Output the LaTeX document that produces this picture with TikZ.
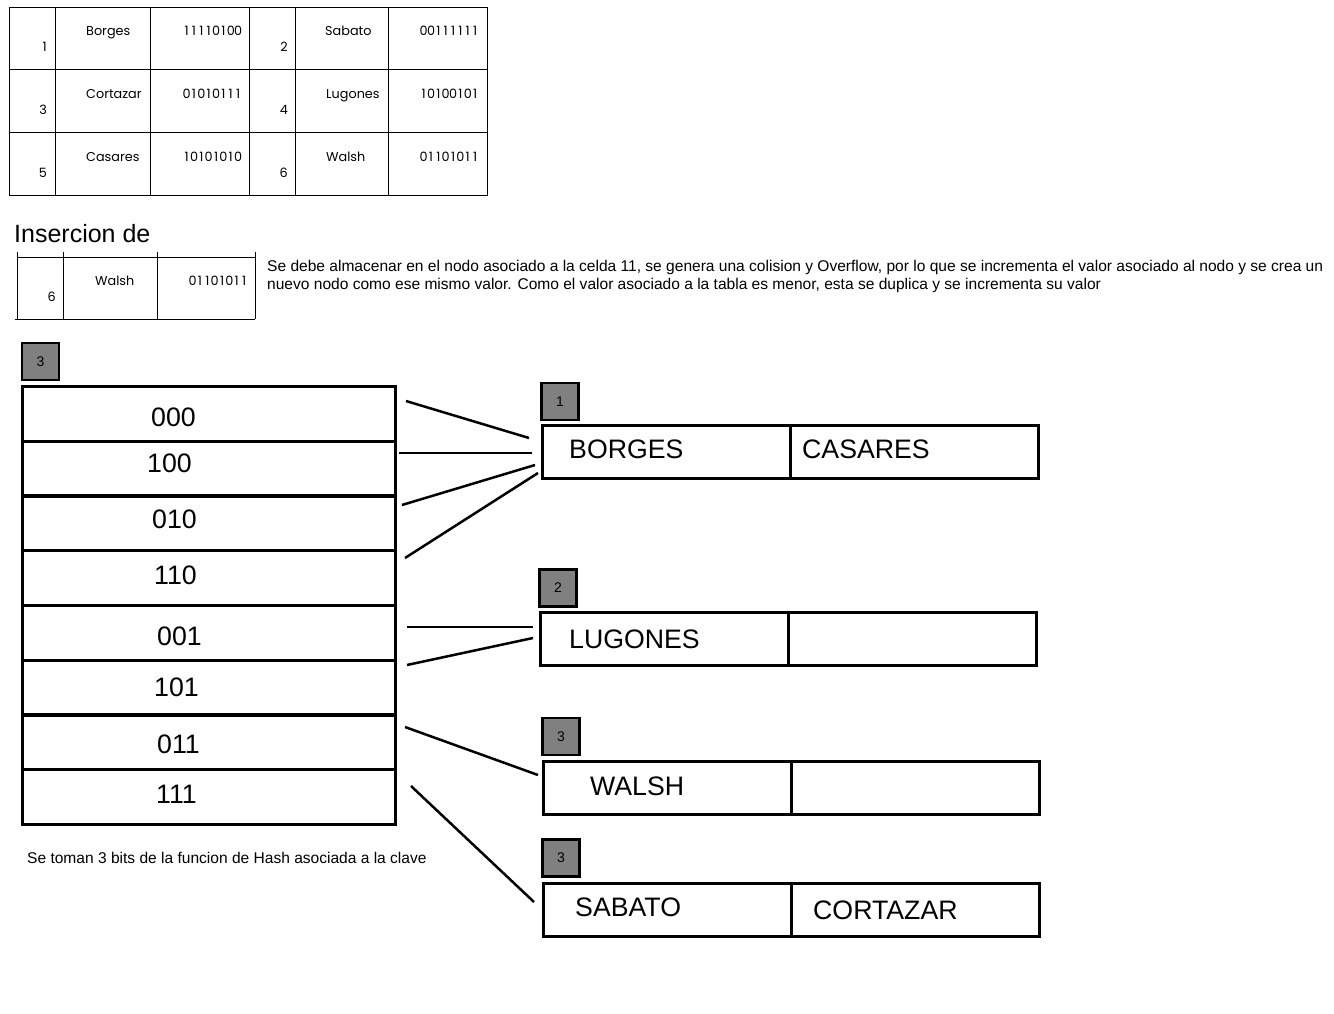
\documentclass[tikz,border=0pt]{standalone}
\usepackage{fontspec}
\setmainfont{Liberation Sans}
\newfontfamily\tabfont{Poppins}
\makeatletter
\newcommand\mybits[1]{\@tfor\mydg:=#1\do{\makebox[7.35pt][c]{\mydg}}}
\makeatother
\begin{document}
\begin{tikzpicture}[x=1pt,y=-1pt,
  tabline/.style={line width=1pt},
  tabtxt/.style={inner sep=0pt,font=\tabfont\fontsize{12.8}{14}\selectfont},
  graybox/.style={draw,line width=2.5pt,fill={rgb,255:red,128;green,128;blue,128},minimum width=37pt,minimum height=37pt,inner sep=0pt,font=\fontsize{14}{16}\selectfont},
  rowbox/.style={draw,line width=3pt,minimum width=373pt,minimum height=55pt,inner sep=0pt,anchor=north west},
  cellbox/.style={draw,line width=3pt,minimum width=248pt,minimum height=53pt,inner sep=0pt,anchor=north west},
  bigtxt/.style={inner sep=0pt,anchor=base west,font=\fontsize{26.7}{30}\selectfont},
  link/.style={line width=2.5pt},
  plain/.style={inner sep=0pt,anchor=base west}]
\useasboundingbox (0,0) rectangle (1334,1014);

% ---------- top table ----------
\draw[tabline] (9,8) rectangle (487,196);
\foreach \x in {55,150,249,295,388} \draw[tabline] (\x,8) -- (\x,196);
\foreach \y in {70,133} \draw[tabline] (9,\y) -- (487,\y);

\node[tabtxt,anchor=base east] (i1) at (47,52) {1};
\node[tabtxt,anchor=base west] (n1) at (86,36) {Borges};
\node[tabtxt,anchor=base east] (h1) at (242,36) {\mybits{11110100}};
\node[tabtxt,anchor=base east] (i2) at (288,52) {2};
\node[tabtxt,anchor=base west] (n2) at (325,36) {Sabato};
\node[tabtxt,anchor=base east] (h2) at (479,36) {\mybits{00111111}};

\node[tabtxt,anchor=base east] (i3) at (47,115) {3};
\node[tabtxt,anchor=base west] (n3) at (86,99) {Cortazar};
\node[tabtxt,anchor=base east] (h3) at (242,99) {\mybits{01010111}};
\node[tabtxt,anchor=base east] (i4) at (288,115) {4};
\node[tabtxt,anchor=base west] (n4) at (326,99) {Lugones};
\node[tabtxt,anchor=base east] (h4) at (479,99) {\mybits{10100101}};

\node[tabtxt,anchor=base east] (i5) at (47,178) {5};
\node[tabtxt,anchor=base west] (n5) at (86,162) {Casares};
\node[tabtxt,anchor=base east] (h5) at (242,162) {\mybits{10101010}};
\node[tabtxt,anchor=base east] (i6) at (288,178) {6};
\node[tabtxt,anchor=base west] (n6) at (326,162) {Walsh};
\node[tabtxt,anchor=base east] (h6) at (479,162) {\mybits{01101011}};

% ---------- insertion ----------
\node[plain,font=\fontsize{25}{30}\selectfont] (ins) at (14,242) {Insercion de};

\draw[tabline] (17,257) -- (255,257);
\draw[tabline] (15,319) -- (255,319);
\foreach \x in {17,63,157,255} \draw[tabline] (\x,252) -- (\x,319);
\node[tabtxt,anchor=base east] (wi) at (56,301) {6};
\node[tabtxt,anchor=base west] (wn) at (95,285) {Walsh};
\node[tabtxt,anchor=base east] (wh) at (248,285) {\mybits{01101011}};

\node[plain,align=left,anchor=north west,font=\fontsize{15.55}{18}\selectfont] (desc) at (267,260)
  {Se debe almacenar en el nodo asociado a la celda 11, se genera una colision y Overflow, por lo que se incrementa el valor asociado al nodo y se crea un\\
   nuevo nodo como ese mismo valor. Como el valor asociado a la tabla es menor, esta se duplica y se incrementa su valor};

% ---------- directory ----------
\node[graybox] (gd) at (40.5,361.5) {3};
\node[rowbox] (r0) at (21,385) {};
\node[rowbox] (r1) at (21,440) {};
\node[rowbox] (r2) at (21,494) {};
\node[rowbox] (r3) at (21,549) {};
\node[rowbox] (r4) at (21,604) {};
\node[rowbox] (r5) at (21,659) {};
\node[rowbox] (r6) at (21,713) {};
\node[rowbox] (r7) at (21,768) {};

\node[bigtxt] (t0) at (151,426) {000};
\node[bigtxt] (t1) at (147,472) {100};
\node[bigtxt] (t2) at (152,528) {010};
\node[bigtxt] (t3) at (154,584) {110};
\node[bigtxt] (t4) at (157,645) {001};
\node[bigtxt] (t5) at (154,696) {101};
\node[bigtxt] (t6) at (157,753) {011};
\node[bigtxt] (t7) at (156,803) {111};

\node[plain,font=\fontsize{15.55}{18}\selectfont] (note) at (27,863) {Se toman 3 bits de la funcion de Hash asociada a la clave};

% ---------- buckets ----------
\node[graybox] (g1) at (560,401.5) {1};
\node[cellbox] (b1l) at (541,424) {};
\node[cellbox] (b1r) at (789,424) {};
\node[bigtxt] (b1a) at (569,458) {BORGES};
\node[bigtxt] (b1b) at (802,458) {CASARES};

\node[graybox] (g2) at (558,588) {2};
\node[cellbox] (b2l) at (539,611) {};
\node[cellbox] (b2r) at (787,611) {};
\node[bigtxt] (b2a) at (569,648) {LUGONES};

\node[graybox] (g3) at (561,736.5) {3};
\node[cellbox] (b3l) at (542,760) {};
\node[cellbox] (b3r) at (790,760) {};
\node[bigtxt] (b3a) at (590,795) {WALSH};

\node[graybox] (g4) at (561,858) {3};
\node[cellbox] (b4l) at (542,882) {};
\node[cellbox] (b4r) at (790,882) {};
\node[bigtxt] (b4a) at (575,916) {SABATO};
\node[bigtxt] (b4b) at (813,919) {CORTAZAR};

% ---------- connectors ----------
\coordinate (s0) at (406,401); \coordinate (e0) at (529,438);
\coordinate (s1) at (399,453); \coordinate (e1) at (532,453);
\coordinate (s2) at (402,505); \coordinate (e2) at (535,465);
\coordinate (s3) at (405,558); \coordinate (e3) at (538,473);
\coordinate (s4) at (407,627); \coordinate (e4) at (533,627);
\coordinate (s5) at (407,665); \coordinate (e5) at (533,638);
\coordinate (s6) at (405,727); \coordinate (e6) at (538,775);
\coordinate (s7) at (411,786); \coordinate (e7) at (534,902);
\foreach \i in {0,...,7} \draw[link] (s\i) -- (e\i);
\end{tikzpicture}
\end{document}
